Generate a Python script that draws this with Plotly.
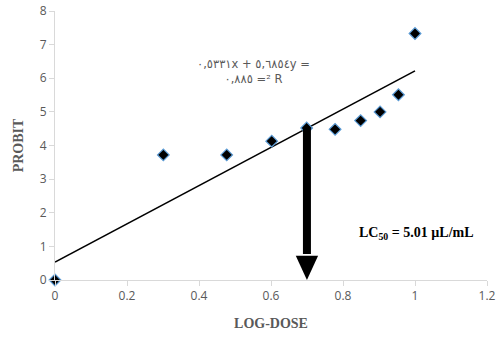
import math
import plotly.graph_objects as go

# Data
log_dose = [0, 0.301, 0.477, 0.602, 0.699, 0.778, 0.849, 0.903, 0.954, 1.0]
probit = [0, 3.72, 3.72, 4.13, 4.52, 4.48, 4.74, 5.0, 5.51, 7.33]
slope = 5.6854
intercept = 0.5331
lc50 = 5.01
x_ticks = [0, 0.2, 0.4, 0.6, 0.8, 1, 1.2]
x_ticktext = ["0", "0.2", "0.4", "0.6", "0.8", "1", "1.2"]
y_ticks = [0, 1, 2, 3, 4, 5, 6, 7, 8]

trend_x = [0, 1]
trend_y = [intercept + slope * v for v in trend_x]

L, R, T, B = 55, 15, 11, 60
W, H = 502, 340

fig = go.Figure()
fig.add_trace(go.Scatter(x=trend_x, y=trend_y, mode="lines",
                         line=dict(color="black", width=1.6), showlegend=False,
                         hoverinfo="skip"))
fig.add_trace(go.Scatter(x=log_dose, y=probit, mode="markers",
                         marker=dict(symbol="diamond", size=9, color="black",
                                     line=dict(color="#5b9bd5", width=1.2)),
                         cliponaxis=False, showlegend=False))

# Arrow at log10(LC50)
xa = math.log10(lc50)
ya = intercept + slope * xa
head_base = 0.72
hw = 0.031
fig.add_shape(type="line", x0=xa, x1=xa, y0=ya, y1=head_base + 0.05,
              line=dict(color="black", width=8), layer="above")
fig.add_shape(type="path",
              path=f"M {xa-hw},{head_base} L {xa+hw},{head_base} L {xa},0 Z",
              fillcolor="black", line=dict(color="black", width=0), layer="above")

fig.add_annotation(x=0.55, y=6.2, xref="x", yref="y", showarrow=False,
                   text="٠,٥٣٣١x + ٥,٦٨٥٤y =<br>٠,٨٨٥ =² R",
                   font=dict(family="DejaVu Sans", size=11.5, color="#595959"),
                   align="center")
fig.add_annotation(x=(357 - L) / (W - L - R), y=1 - (233 - T) / (H - T - B),
                   xref="paper", yref="paper", showarrow=False,
                   text="LC<sub>50</sub> = 5.01 µL/mL",
                   font=dict(family="Liberation Serif", size=14, color="black", weight="bold"),
                   xanchor="left", yanchor="middle")

axis_common = dict(showgrid=False, zeroline=False, showline=True,
                   linecolor="#d9d9d9", linewidth=1, ticks="outside",
                   tickcolor="#d9d9d9", ticklen=5, automargin=False,
                   ticklabeloverflow="allow",
                   tickfont=dict(family="Open Sans", size=12, color="#595959"),
                   title_font=dict(family="Liberation Serif", size=14,
                                   color="#595959", weight="bold"))

fig.update_xaxes(range=[0, 1.2], tickvals=x_ticks, ticktext=x_ticktext,
                 title_text="LOG-DOSE", title_standoff=14, **axis_common)
fig.update_yaxes(range=[0, 8], tickvals=y_ticks, title_text="PROBIT",
                 title_standoff=12, **axis_common)

fig.update_layout(width=W, height=H, margin=dict(l=L, r=R, t=T, b=B),
                  plot_bgcolor="white", paper_bgcolor="white")

fig.write_html("out.html", config={"displayModeBar": False},
               post_script="document.body.style.margin='0';document.body.style.overflow='hidden';")
